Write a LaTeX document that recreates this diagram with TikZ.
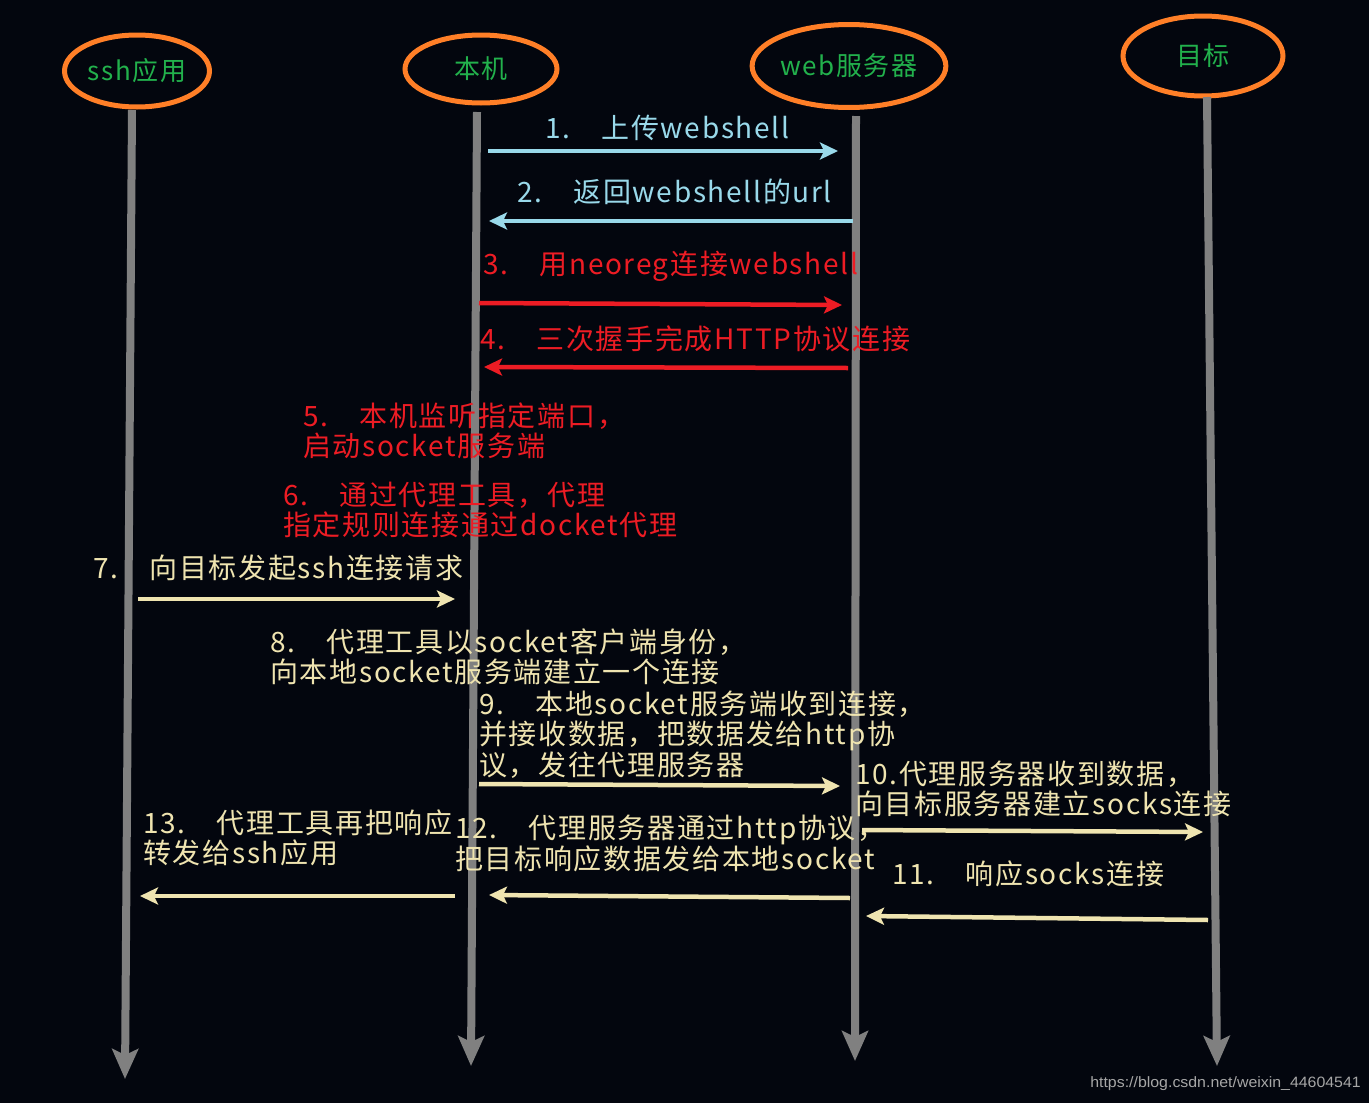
\documentclass[tikz,border=0pt]{standalone}
\usepackage{fontspec}
\setmainfont{Noto Sans CJK SC}[LetterSpace=6]
\newfontfamily\urlfont{Liberation Sans}
\usetikzlibrary{arrows.meta}
\usetikzlibrary{shapes.geometric}

\definecolor{bgblack}{RGB}{3,6,14}
\definecolor{actororange}{RGB}{255,127,39}
\definecolor{actorgreen}{RGB}{34,177,76}
\definecolor{lifegrey}{RGB}{128,128,128}
\definecolor{msgblue}{RGB}{153,217,234}
\definecolor{msgred}{RGB}{237,28,36}
\definecolor{msgcream}{RGB}{239,228,176}

\begin{document}
\begin{tikzpicture}[x=1pt, y=-1pt,
    actor/.style={ellipse, draw=actororange, line width=5pt, text=actorgreen, inner sep=0pt, font=\fontsize{26}{30}\selectfont},
    lifeline/.style={draw=lifegrey, line width=8pt, -{Stealth[length=30pt, width=26pt, inset=6pt]}},
    msg/.style={line width=4.5pt, -{Stealth[length=18pt, width=17pt, inset=4pt]}},
    msglabel/.style={anchor=north west, align=left, inner sep=0pt, font=\fontsize{28}{30}\selectfont}]

    \fill[bgblack] (0,0) rectangle (1369,1103);

    % actors
    \node [actor, minimum width=145pt, minimum height=72pt] (ssh) at (137,71) {ssh应用};
    \node [actor, minimum width=152pt, minimum height=68pt] (local) at (481,69) {本机};
    \node [actor, minimum width=161pt, minimum height=83pt] (web) at (849,66) {web服务器};
    \node [actor, minimum width=160pt, minimum height=80pt] (target) at (1203,56) {目标};

    % lifelines
    \coordinate (ssh_top) at (132,110);
    \coordinate (ssh_end) at (125,1079);
    \coordinate (local_top) at (477,112);
    \coordinate (local_end) at (471,1066);
    \coordinate (web_top) at (856,116);
    \coordinate (web_end) at (855,1061);
    \coordinate (target_top) at (1207,97);
    \coordinate (target_end) at (1217,1066);
    \draw [lifeline] (ssh_top) -- (ssh_end);
    \draw [lifeline] (local_top) -- (local_end);
    \draw [lifeline] (web_top) -- (web_end);
    \draw [lifeline] (target_top) -- (target_end);

    % messages
    \node [msglabel, text=msgblue] (lbl1) at (545,115) {1.　上传webshell};
    \node [msglabel, text=msgblue] (lbl2) at (517,179) {2.　返回webshell的url};
    \node [msglabel, text=msgred] (lbl3) at (483,251) {3.　用neoreg连接webshell};
    \node [msglabel, text=msgred] (lbl4) at (480,326) {4.　三次握手完成HTTP协议连接};
    \node [msglabel, text=msgred] (lbl5) at (303,403) {5.　本机监听指定端口，\\启动socket服务端};
    \node [msglabel, text=msgred] (lbl6) at (283,482) {6.　通过代理工具，代理\\指定规则连接通过docket代理};
    \node [msglabel, text=msgcream] (lbl7) at (93,555) {7.　向目标发起ssh连接请求};
    \node [msglabel, text=msgcream] (lbl8) at (270,629) {8.　代理工具以socket客户端身份，\\向本地socket服务端建立一个连接};
    \node [msglabel, text=msgcream] (lbl9) at (479,691) {9.　本地socket服务端收到连接，\\并接收数据，把数据发给http协\\议，发往代理服务器};
    \node [msglabel, text=msgcream] (lbl10) at (855,761) {10.代理服务器收到数据，\\向目标服务器建立socks连接};
    \node [msglabel, text=msgcream] (lbl11) at (892,861) {11.　响应socks连接};
    \node [msglabel, text=msgcream] (lbl12) at (455,815) {12.　代理服务器通过http协议，\\把目标响应数据发给本地socket};
    \node [msglabel, text=msgcream] (lbl13) at (143,810) {13.　代理工具再把响应\\转发给ssh应用};

    \coordinate (m1_from) at (488,151);
    \coordinate (m1_to) at (838,151);
    \coordinate (m2_from) at (853,221);
    \coordinate (m2_to) at (489,221);
    \coordinate (m3_from) at (479,303);
    \coordinate (m3_to) at (842,305);
    \coordinate (m4_from) at (848,368);
    \coordinate (m4_to) at (484,367);
    \coordinate (m7_from) at (138,599);
    \coordinate (m7_to) at (455,599);
    \coordinate (m9_from) at (479,784);
    \coordinate (m9_to) at (840,786);
    \coordinate (m10_from) at (862,830);
    \coordinate (m10_to) at (1203,832);
    \coordinate (m11_from) at (1208,920);
    \coordinate (m11_to) at (866,916);
    \coordinate (m12_from) at (850,898);
    \coordinate (m12_to) at (489,895);
    \coordinate (m13_from) at (455,896);
    \coordinate (m13_to) at (140,896);

    \draw [msg, draw=msgblue] (m1_from) -- (m1_to);
    \draw [msg, draw=msgblue] (m2_from) -- (m2_to);
    \draw [msg, draw=msgred] (m3_from) -- (m3_to);
    \draw [msg, draw=msgred] (m4_from) -- (m4_to);
    \draw [msg, draw=msgcream] (m7_from) -- (m7_to);
    \draw [msg, draw=msgcream] (m9_from) -- (m9_to);
    \draw [msg, draw=msgcream] (m10_from) -- (m10_to);
    \draw [msg, draw=msgcream] (m11_from) -- (m11_to);
    \draw [msg, draw=msgcream] (m12_from) -- (m12_to);
    \draw [msg, draw=msgcream] (m13_from) -- (m13_to);

    \node [anchor=east, inner sep=0pt, xscale=1.06, text=lifegrey!70!white, font=\urlfont\fontsize{15}{17}\selectfont] (url) at (1361,1084) {https://blog.csdn.net/weixin\_44604541};
\end{tikzpicture}
\end{document}
